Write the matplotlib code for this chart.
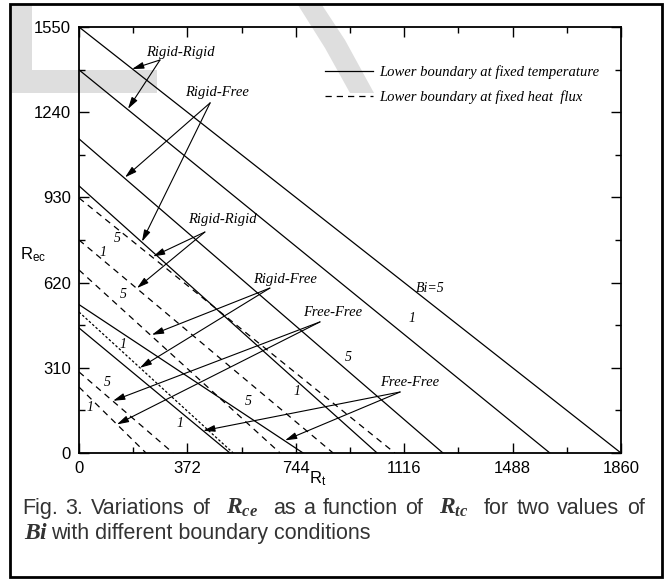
import matplotlib
matplotlib.use("Agg")
import matplotlib.pyplot as plt
from matplotlib.lines import Line2D
from matplotlib.patches import Rectangle, Polygon

plt.rcParams['font.family'] = ['Liberation Sans', 'DejaVu Sans']
plt.rcParams['mathtext.fontset'] = 'custom'
plt.rcParams['mathtext.rm'] = 'Liberation Sans'
plt.rcParams['mathtext.it'] = 'Liberation Serif:italic'
plt.rcParams['mathtext.bf'] = 'Liberation Serif:italic:bold'

# intercepts (R_ec at R_t=0, R_t at R_ec=0) for Bi = 5, 1
solid_y0 = [1550, 1394, 1143, 972, 540, 455]   # fixed temperature: RR5, RR1, RF5, RF1, FF5, FF1
solid_x0 = [1860, 1616, 1249, 1023, 769, 518]
dashed_y0 = [928, 775, 666, 513, 295, 240]     # fixed heat flux
dashed_x0 = [1084, 872, 690, 529, 323, 230]
dash_styles = [(0, (5, 4))] * 3 + [(0, (2, 1.6))] + [(0, (5, 4))] * 2

xticks = [0, 372, 744, 1116, 1488, 1860]
yticks = [0, 310, 620, 930, 1240, 1550]

serif_it = dict(family='Liberation Serif', style='italic')

fig = plt.figure(figsize=(6.65, 5.81), dpi=100)

# faint watermark behind everything
wm = '#dedede'
def px_poly(pts):
    return Polygon([(x/665, 1-y/581) for x, y in pts], closed=True, transform=fig.transFigure,
                   facecolor=wm, edgecolor='none', zorder=-10)
fig.add_artist(px_poly([(12, 5), (32, 5), (32, 70), (157, 70), (157, 93), (12, 93)]))
fig.add_artist(px_poly([(298, 5), (322, 5), (345, 40), (374, 93), (350, 93), (325, 48)]))

ax = fig.add_axes([79/665, 1-453/581, 542/665, 426/581])
ax.patch.set_alpha(0)

for y0, x0 in zip(solid_y0, solid_x0):
    ax.plot([0, x0], [y0, 0], color='black', lw=0.9)
for y0, x0, ls in zip(dashed_y0, dashed_x0, dash_styles):
    ax.plot([0, x0], [y0, 0], color='black', lw=0.9, linestyle=ls)

ax.set_xlim(0, 1860)
ax.set_ylim(0, 1550)
ax.set_xticks(xticks)
ax.set_yticks(yticks)
ax.set_xticks([x + 186 for x in xticks[:-1]], minor=True)
ax.set_yticks([y + 155 for y in yticks[:-1]], minor=True)
ax.tick_params(which='both', direction='in', top=True, right=True, width=1, labelsize=12)
ax.tick_params(which='major', length=7, pad=6)
ax.tick_params(which='minor', length=4)
for s in ax.spines.values():
    s.set_linewidth(1.3)

ax.text(-0.085, 0.465, r'R$_{\mathrm{ec}}$', transform=ax.transAxes, fontsize=12,
        ha='center', va='center')
ax.text(0.44, -0.038, r'R$_{\mathrm{t}}$', transform=ax.transAxes, fontsize=12,
        ha='center', va='top')

# legend
handles = [Line2D([], [], color='black', lw=0.9),
           Line2D([], [], color='black', lw=0.9, linestyle=(0, (5, 4)))]
ax.legend(handles, ['Lower boundary at fixed temperature', 'Lower boundary at fixed heat  flux'],
          loc='upper left', bbox_to_anchor=(0.43, 0.941), frameon=False,
          prop=dict(family='Liberation Serif', style='italic', size=10.5),
          handlelength=3.3, handletextpad=0.4, labelspacing=0.75)

# annotations with double arrows
arrows = [
    ('Rigid-Rigid', (347, 1459), (278, 1430), [(182, 1397), (168, 1252)]),
    ('Rigid-Free', (474, 1310), (450, 1274), [(158, 1003), (216, 769)]),
    ('Rigid-Rigid', (491, 848), (432, 804), [(254, 715), (199, 600)]),
    ('Rigid-Free', (707, 630), (655, 600), [(250, 430), (209, 310)]),
    ('Free-Free', (872, 513), (827, 477), [(117, 190), (130, 104)]),
    ('Free-Free', (1136, 255), (1102, 222), [(426, 81), (707, 46)]),
]
for label, tpos, tail, heads in arrows:
    ax.text(tpos[0], tpos[1], label, fontsize=10.5, ha='center', va='center', **serif_it)
    for h in heads:
        ax.annotate('', xy=h, xytext=tail,
                    arrowprops=dict(arrowstyle='-|>,head_length=0.7,head_width=0.2',
                                    color='black', lw=0.8, shrinkA=0, shrinkB=0))

# Bi labels
bi_labels = [('Bi=5', 1205, 600), ('1', 1143, 491), ('5', 923, 349), ('1', 748, 222),
             ('5', 580, 186), ('1', 347, 109),
             ('5', 130, 782), ('1', 82, 731), ('5', 151, 575), ('1', 151, 393),
             ('5', 96, 258), ('1', 38, 164)]
for t, x, y in bi_labels:
    ax.text(x, y, t, fontsize=10, ha='center', va='center', **serif_it)

# caption: first line justified between x=22 and x=645 px
cap_font = ['Liberation Sans Narrow', 'Liberation Sans']
line1 = ['Fig.', '3.', 'Variations', 'of', r'$\mathbf{R_{ce}}$', 'as', 'a', 'function', 'of',
         r'$\mathbf{R_{tc}}$', 'for', 'two', 'values', 'of']
yb1 = 1 - 514/581
yb2 = 1 - 539/581
words = []
for w in line1:
    size = 17 if w.startswith('$') else 15.5
    words.append(fig.text(0, yb1, w, fontsize=size, color='#333333', va='baseline',
                          ha='left', family=cap_font))
fig.canvas.draw()
r = fig.canvas.get_renderer()
widths = [t.get_window_extent(r).width for t in words]
gap_w = [2 if (a.startswith('$') or b.startswith('$')) else 1 for a, b in zip(line1[:-1], line1[1:])]
unit = (623 - sum(widths)) / sum(gap_w)
x = 22.0
for i, t in enumerate(words):
    t.set_x(x / 665)
    x += widths[i] + (unit * gap_w[i] if i < len(gap_w) else 0)

fig.text(24/665, yb2, r'$\mathbf{Bi}$', fontsize=17, color='#333333', va='baseline', ha='left')
fig.text(51/665, yb2, 'with different boundary conditions', fontsize=15.5, color='#333333',
         va='baseline', ha='left', family=cap_font)

# outer frame
fig.add_artist(Rectangle((10/665, 4/581), 652/665, 573/581, transform=fig.transFigure,
                         fill=False, edgecolor='black', lw=2))

fig.savefig('out.png', dpi=100)
